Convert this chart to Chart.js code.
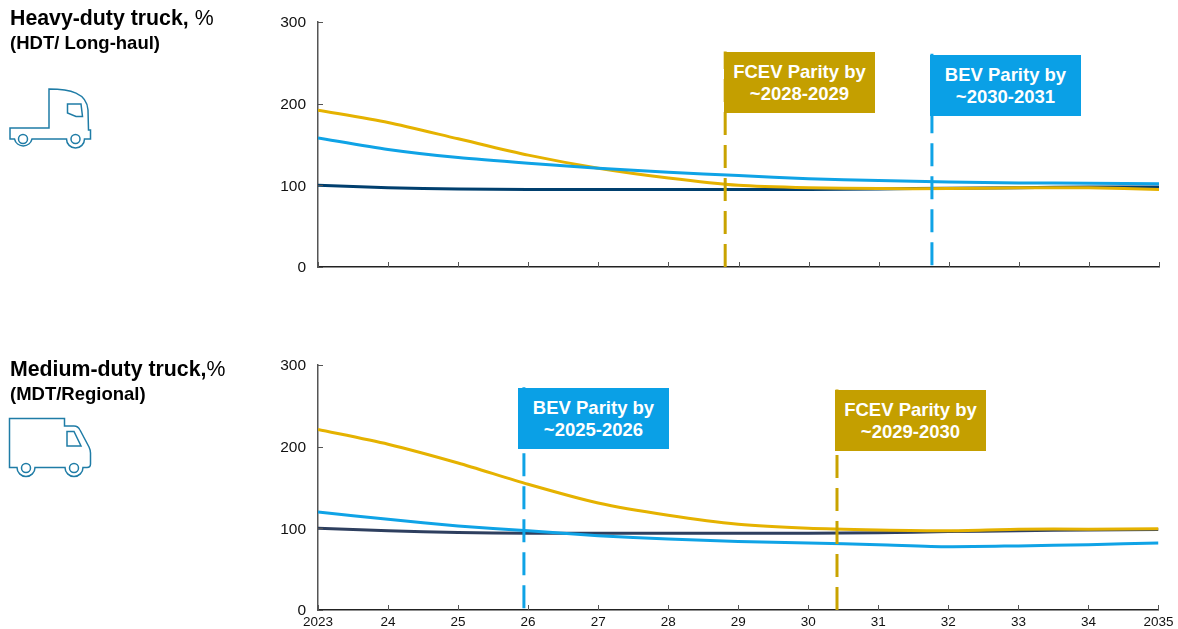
<!DOCTYPE html>
<html><head><meta charset="utf-8">
<script src="https://cdn.jsdelivr.net/npm/chart.js@4"></script>
<style>
html,body{margin:0;padding:0;background:#fff;width:1178px;height:629px;overflow:hidden;font-family:"Liberation Sans",Arial,sans-serif;color:#000}
canvas{position:absolute;left:0}
#c1{top:0}#c2{top:330px}
.t{position:absolute;left:10px;white-space:nowrap}
.h{font-size:21.300px;font-weight:bold}.h span{font-weight:normal}
.s{font-size:18.500px;font-weight:bold}
.box{position:absolute;width:151px;height:61px;color:#fff;font-weight:bold;font-size:18.500px;line-height:22px;text-align:center;padding-top:9px;box-sizing:border-box}
svg{position:absolute;left:0;top:0}
</style></head><body>
<div style="position:relative;width:1178px;height:629px;overflow:hidden">
<canvas id="c1"></canvas><canvas id="c2"></canvas>
<div class="t h" style="top:6px">Heavy-duty truck, <span>%</span></div>
<div class="t s" style="top:32px">(HDT/ Long-haul)</div>
<div class="t h" style="top:357px">Medium-duty truck,<span>%</span></div>
<div class="t s" style="top:383px">(MDT/Regional)</div>
<svg width="1178" height="629" fill="none" stroke="#1f7ca6" stroke-width="1.500">
<path d="M49 128V89C70 89 87 93 88 110L88.500 130H90.500V139H84.500A9 9 0 0 1 66.500 139H32A9 9 0 0 1 14.500 139H10V128Z"/>
<circle cx="23" cy="139" r="4.500"/><circle cx="75.500" cy="139" r="4.500"/>
<path d="M67.500 104H81L82.500 116.500H76L67.500 113Z"/>
<path d="M9.500 418.500H64.500V426H74C77 426 79 428 80 430L89 447C90 449 90.500 450 90.500 453V464C90.500 466 89 467.500 87 467.500H83A9 9 0 0 1 65 467.500H35A9 9 0 0 1 17 467.500H9.500Z"/>
<circle cx="26" cy="468" r="4.500"/><circle cx="74" cy="468" r="4.500"/>
<path d="M67 431.500H74L81 446H67Z"/>
</svg>
<div class="box" style="left:724px;top:52px;background:#c49f00">FCEV Parity by<br>~2028-2029</div>
<div class="box" style="left:930px;top:55px;background:#0aa0e6">BEV Parity by<br>~2030-2031</div>
<div class="box" style="left:518px;top:388px;background:#0aa0e6">BEV Parity by<br>~2025-2026</div>
<div class="box" style="left:835px;top:390px;background:#c49f00">FCEV Parity by<br>~2029-2030</div>
</div>
<script>
const years=[2023,2024,2025,2026,2027,2028,2029,2030,2031,2032,2033,2034,2035];
const yTicks=[0,100,200,300];
const hdGold=[192,177,157,137,121,109,100,97,96,96,97,97,95];
const hdBlue=[158,144,134,127,121,116,112,108,106,104,103,102.500,102];
const hdNavy=[100,97,95.500,95,95,95,95,95,95.500,96.500,97,98,98];
const mdGold=[221,203,180,154,131,116,105,100,98,97,99,99,99.500];
const mdBlue=[120,111,103,97,91,87,84,82,80,77.500,78.500,80,82];
const mdNavy=[100,97,95,94,94,94,94,94,94.500,96,97,98,98.500];
const hdFcevParity=[[2028.81,0],[2028.81,264]];
const hdBevParity=[[2031.76,2],[2031.76,261]];
const mdBevParity=[[2025.94,2],[2025.94,273]];
const mdFcevParity=[[2030.41,0],[2030.41,270]];
const GOLD='#e5b200',BLUE='#0fa3e6',DGOLD='#c9a300';
const toXY=(a)=>a.map(p=>({x:p[0],y:p[1]}));
const series=(vals)=>vals.map((v,i)=>({x:years[i],y:v}));
const inwardTicks={id:'inwardTicks',afterDraw(c){
  const g=c.ctx,x=c.scales.x,y=c.scales.y;
  g.save();g.lineWidth=1;g.strokeStyle='#555';g.beginPath();
  years.forEach(v=>{const p=Math.round(x.getPixelForValue(v))+.5;g.moveTo(p,y.bottom);g.lineTo(p,y.bottom-5);});
  yTicks.forEach(v=>{const p=Math.round(y.getPixelForValue(v))+.5;g.moveTo(x.left,p);g.lineTo(x.left+5,p);});
  g.stroke();g.restore();}};
function make(id,h,top,bottom,showX,lines,dashes){
  const el=document.getElementById(id);
  el.style.width='1178px';el.style.height=h+'px';el.width=1178;el.height=h;
  const ds=lines.map(l=>({data:series(l[0]),borderColor:l[1],borderWidth:3,pointRadius:0,tension:.25,order:l[2]}));
  dashes.forEach(d=>ds.push({data:toXY(d[0]),borderColor:d[1],borderWidth:3,borderDash:[23,10],pointRadius:0,order:0}));
  new Chart(el,{type:'line',data:{datasets:ds},plugins:[inwardTicks],options:{
    responsive:false,animation:false,
    layout:{padding:{left:0,right:19,top:top,bottom:0}},
    plugins:{legend:{display:false},tooltip:{enabled:false}},
    scales:{
      x:{type:'linear',min:2023,max:2035,
        afterFit(s){s.height=h-bottom;},
        afterBuildTicks(s){s.ticks=years.map(v=>({value:v}));},
        grid:{drawOnChartArea:false,drawTicks:false},border:{color:'#222',width:1.500},
        ticks:{display:showX,autoSkip:false,maxRotation:0,padding:4.500,color:'#111',font:{family:'"Liberation Sans"',size:13.500},
          callback:(v)=>(v===2023||v===2035)?String(v):String(v).slice(2)}},
      y:{min:0,max:300,
        afterFit(s){s.width=318;},
        afterBuildTicks(s){s.ticks=yTicks.map(v=>({value:v}));},
        grid:{drawOnChartArea:false,drawTicks:false},border:{color:'#555',width:1.500},
        ticks:{padding:12,labelOffset:1,color:'#111',font:{family:'"Liberation Sans"',size:15.500}}}
    }}});
}
make('c1',300,22,267,false,[[hdNavy,'#003f6e',3],[hdGold,GOLD,2],[hdBlue,BLUE,1]],[[hdFcevParity,DGOLD],[hdBevParity,BLUE]]);
make('c2',330,35,280,true,[[mdNavy,'#2e3f5f',3],[mdBlue,BLUE,2],[mdGold,GOLD,1]],[[mdBevParity,BLUE],[mdFcevParity,DGOLD]]);
</script>
</body></html>
